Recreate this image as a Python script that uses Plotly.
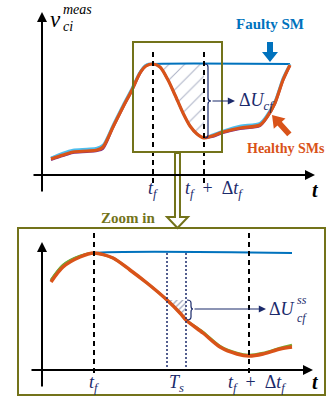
import plotly.graph_objects as go

# ---- capacitor-voltage samples (arbitrary units) ----
# overview panel
t_top = [0.9, 2.1, 3.1, 4.5, 5.5, 6.1, 7.1, 8.1, 9.0, 9.8, 10.4, 11.1, 11.8, 12.6,
         13.3, 14.1, 14.8, 15.5, 16.2, 17.0, 18.1, 19.8, 21.8, 22.5, 23.3, 24.1, 24.8]
v_healthy_top = [1.6, 2.0, 2.3, 2.4, 2.5, 2.8, 4.8, 6.8, 8.5, 10.2, 10.9, 11.1, 10.8, 9.5,
                 8.0, 6.2, 4.9, 4.1, 3.7, 3.9, 4.3, 4.7, 5.0, 5.8, 7.2, 9.5, 11.0]
v_sm2_top = [1.7, 2.2, 2.5, 2.6, 2.7, 3.0, 5.0, 7.0, 8.7, 10.3, 11.0, 11.1, 10.8, 9.5,
             8.0, 6.2, 4.9, 4.1, 3.7, 4.0, 4.4, 4.9, 5.2, 6.0, 7.4, 9.7, 11.1]
v_sm3_top = [1.5, 1.9, 2.2, 2.3, 2.4, 2.6, 4.7, 6.7, 8.4, 10.1, 10.9, 11.1, 10.8, 9.5,
             8.0, 6.2, 4.9, 4.1, 3.7, 3.8, 4.2, 4.6, 4.9, 5.7, 7.1, 9.4, 10.9]
t_faulty_top = [0.9, 2.1, 3.1, 4.5, 5.5, 6.1, 7.1, 8.1, 9.0, 9.8, 10.4, 11.1, 24.8]
v_faulty_top = [1.7, 2.1, 2.4, 2.5, 2.6, 2.9, 4.9, 6.9, 8.6, 10.3, 11.0, 11.1, 11.1]

# zoomed panel
t_bot = [0.9, 2.1, 3.8, 5.2, 7.1, 8.8, 10.5, 12.5, 13.8, 14.4, 16.1, 17.8, 19.5,
         20.7, 22.1, 23.8, 25.0]
v_healthy_bot = [8.8, 10.3, 11.3, 11.7, 11.2, 10.0, 8.7, 7.0, 5.7, 5.0, 3.7, 2.3, 1.6,
                 1.4, 1.6, 2.1, 2.3]
v_sm2_bot = [9.0, 10.5, 11.4, 11.7, 11.2, 10.0, 8.7, 7.0, 5.7, 5.0, 3.8, 2.4, 1.7,
             1.5, 1.7, 2.2, 2.5]
t_faulty_bot = [0.9, 2.1, 3.8, 5.2, 25.0]
v_faulty_bot = [9.0, 10.5, 11.4, 11.7, 11.7]

# event instants
tf_top, tend_top = 11.1, 16.2
tf_bot, tend_bot = 5.2, 20.7
ts_start, ts_end = 12.5, 14.4
tick_top = ["<i>t</i><sub><i>f</i></sub>",
            "<i>t</i><sub><i>f</i></sub>\u2002+\u2002\u0394<i>t</i><sub><i>f</i></sub>"]
tick_bot = ["<i>t</i><sub><i>f</i></sub>", "<i>T</i><sub><i>s</i></sub>",
            "<i>t</i><sub><i>f</i></sub>\u2002+\u2002\u0394<i>t</i><sub><i>f</i></sub>"]

ORANGE = "#D95319"
BLUE = "#0072BD"
NAVY = "#1b2a6b"
OLIVE = "#73731a"
SERIF = "Liberation Serif, Times New Roman, serif"

W, H = 326, 402


def paper(px, py):
    return px / W, 1 - py / H


fig = go.Figure()

# hatched area between the faulty SM level and the healthy curve (overview)
seg = [(t, v) for t, v in zip(t_top, v_healthy_top) if tf_top <= t <= tend_top]
fault_level = v_faulty_top[-1]
hx = [tf_top, tend_top] + [p[0] for p in reversed(seg)]
hy = [fault_level, fault_level] + [p[1] for p in reversed(seg)]
fig.add_trace(go.Scatter(x=hx, y=hy, fill="toself", mode="none",
                         fillcolor="rgba(0,0,0,0)",
                         fillpattern=dict(shape="/", fgcolor="#55618a", size=11, solidity=0.09),
                         xaxis="x", yaxis="y", hoverinfo="skip"))

# hatched sliver in the zoomed panel
seg_b = [(t, v) for t, v in zip(t_bot, v_healthy_bot) if ts_start <= t <= ts_end]
v_ts = seg_b[0][1]
bx = [ts_start, ts_end] + [p[0] for p in reversed(seg_b)]
by = [v_ts, v_ts] + [p[1] for p in reversed(seg_b)]
fig.add_trace(go.Scatter(x=bx, y=by, fill="toself", mode="none",
                         fillcolor="rgba(0,0,0,0)",
                         fillpattern=dict(shape="/", fgcolor="#3c4a78", size=4, solidity=0.3),
                         xaxis="x2", yaxis="y2", hoverinfo="skip"))

# curves, overview
fig.add_trace(go.Scatter(x=t_faulty_top, y=v_faulty_top, mode="lines",
                         line=dict(color=BLUE, width=2, shape="spline", smoothing=0.8),
                         xaxis="x", yaxis="y"))
fig.add_trace(go.Scatter(x=t_top, y=v_sm2_top, mode="lines",
                         line=dict(color="#4DBEEE", width=2.5, shape="spline", smoothing=0.8),
                         xaxis="x", yaxis="y"))
fig.add_trace(go.Scatter(x=t_top, y=v_sm3_top, mode="lines",
                         line=dict(color="#7E2F8E", width=2, shape="spline", smoothing=0.8),
                         xaxis="x", yaxis="y"))
fig.add_trace(go.Scatter(x=t_top, y=v_healthy_top, mode="lines",
                         line=dict(color=ORANGE, width=3.2, shape="spline", smoothing=0.8),
                         xaxis="x", yaxis="y"))

# curves, zoomed
fig.add_trace(go.Scatter(x=t_faulty_bot, y=v_faulty_bot, mode="lines",
                         line=dict(color=BLUE, width=2, shape="spline", smoothing=0.8),
                         xaxis="x2", yaxis="y2"))
fig.add_trace(go.Scatter(x=t_bot, y=v_sm2_bot, mode="lines",
                         line=dict(color="#77AC30", width=2.5, shape="spline", smoothing=0.8),
                         xaxis="x2", yaxis="y2"))
fig.add_trace(go.Scatter(x=t_bot, y=v_healthy_bot, mode="lines",
                         line=dict(color=ORANGE, width=3.5, shape="spline", smoothing=0.8),
                         xaxis="x2", yaxis="y2"))

shapes = []
# dashed event markers
for t in (tf_top, tend_top):
    shapes.append(dict(type="line", xref="x", yref="y", x0=t, x1=t, y0=12.3, y1=-1.2,
                       line=dict(color="black", width=2, dash="5px,4px")))
for t in (tf_bot, tend_bot):
    shapes.append(dict(type="line", xref="x2", yref="y2", x0=t, x1=t, y0=13.7, y1=-0.7,
                       line=dict(color="black", width=2, dash="5px,4px")))
# dotted sampling window
for t in (ts_start, ts_end):
    shapes.append(dict(type="line", xref="x2", yref="y2", x0=t, x1=t, y0=v_faulty_bot[-1], y1=0,
                       line=dict(color=NAVY, width=1.5, dash="2px,2px")))

# zoom frames and connector
shapes.append(dict(type="rect", xref="x", yref="y", x0=9.1, x1=18.0, y0=2.3, y1=13.3,
                   line=dict(color=OLIVE, width=2)))
x0, y0 = paper(18, 228)
x1, y1 = paper(325, 395)
shapes.append(dict(type="rect", xref="paper", yref="paper", x0=x0, x1=x1, y0=y1, y1=y0,
                   line=dict(color=OLIVE, width=2)))
conn = [(175, 153), (175, 217), (167, 217), (177.5, 228), (188, 217), (180, 217), (180, 153)]
path = "M " + " L ".join("%.4f,%.4f" % paper(px, py) for px, py in conn) + " Z"
shapes.append(dict(type="path", xref="paper", yref="paper", path=path,
                   fillcolor="white", line=dict(color=OLIVE, width=2)))

# brackets
shapes.append(dict(type="path", xref="x", yref="y",
                   path="M 16.3,11.1 Q 16.6,11.1 16.6,10.8 L 16.6,7.7 Q 16.6,7.4 16.9,7.4 "
                        "Q 16.6,7.4 16.6,7.1 L 16.6,4.0 Q 16.6,3.7 16.3,3.7",
                   line=dict(color=NAVY, width=1.2)))
shapes.append(dict(type="path", xref="x2", yref="y2",
                   path="M 14.5,7.0 Q 14.9,7.0 14.9,6.7 L 14.9,6.4 Q 14.9,6.1 15.1,6.1 "
                        "Q 14.9,6.1 14.9,5.8 L 14.9,5.3 Q 14.9,5.0 14.5,5.0",
                   line=dict(color=NAVY, width=1.2)))

# block arrows
shapes.append(dict(type="path", xref="x", yref="y",
                   path="M 22.5,13.3 L 23.1,13.3 L 23.1,12.3 L 23.6,12.3 L 22.8,11.3 "
                        "L 22.0,12.3 L 22.5,12.3 Z",
                   fillcolor=BLUE, line=dict(width=0)))
shapes.append(dict(type="path", xref="x", yref="y",
                   path="M 23.0,6.0 L 24.35,5.65 L 23.98,5.32 L 24.95,4.25 L 24.52,3.88 "
                        "L 23.55,4.95 L 23.18,4.62 Z",
                   fillcolor=ORANGE, line=dict(width=0)))

ann = []


def arrow(x, y, ax, ay, xr, yr, width=2, color="black", head=2, size=1.0):
    ann.append(dict(x=x, y=y, ax=ax, ay=ay, xref=xr, yref=yr, axref=xr, ayref=yr,
                    text="", showarrow=True, arrowhead=head, arrowsize=size,
                    arrowwidth=width, arrowcolor=color))


def label(x, y, text, xr, yr, size=17, color=NAVY, xanchor="center", bold=False):
    if bold:
        text = "<b>" + text + "</b>"
    ann.append(dict(x=x, y=y, xref=xr, yref=yr, text=text, showarrow=False,
                    xanchor=xanchor, yanchor="middle",
                    font=dict(family=SERIF, size=size, color=color)))


# axes
arrow(0, 16.3, 0, -1.8, "x", "y")
arrow(27.3, 0, -1.0, 0, "x", "y")
arrow(0, 12.8, 0, -1.8, "x2", "y2")
arrow(27.1, 0, -1.2, 0, "x2", "y2")

# delta-U pointers
arrow(19.3, 7.4, 16.9, 7.4, "x", "y", width=1.2, color=NAVY, size=1.2)
arrow(22.4, 6.1, 15.1, 6.1, "x2", "y2", width=1.2, color=NAVY, size=1.2)

# axis titles
label(1.3, 15.6, "<i>v</i>", "x", "y", size=23, color="black")
label(1.9, 16.6, "<i>meas</i>", "x", "y", size=14, color="black", xanchor="left")
label(1.9, 14.9, "<i>ci</i>", "x", "y", size=14, color="black", xanchor="left")
label(27.3, -1.5, "<b><i>t</i></b>", "x", "y", size=20, color="black")
label(27.3, -1.2, "<b><i>t</i></b>", "x2", "y2", size=20, color="black")

# tick texts
label(tf_top, -1.4, tick_top[0], "x", "y", size=18)
label(14.1, -1.4, tick_top[1], "x", "y", size=18, xanchor="left")
label(tf_bot, -1.3, tick_bot[0], "x2", "y2", size=18)
label((ts_start + ts_end) / 2, -1.3, tick_bot[1], "x2", "y2", size=18)
label(21.5, -1.3, tick_bot[2], "x2", "y2", size=18)

# annotations of the deviation
label(19.5, 7.4, "\u0394<i>U</i><sub><i>cf</i></sub>", "x", "y", size=18, xanchor="left")
label(22.5, 6.1, "\u0394<i>U</i>", "x2", "y2", size=18, xanchor="left")
label(25.3, 7.0, "<i>ss</i>", "x2", "y2", size=12, xanchor="left")
label(25.3, 5.2, "<i>cf</i>", "x2", "y2", size=12, xanchor="left")

# captions for the two groups of curves
label(22.8, 15.1, "Faulty SM", "x", "y", size=15, color=BLUE, bold=True)
label(20.3, 2.7, "Healthy SMs", "x", "y", size=14, color=ORANGE, bold=True, xanchor="left")
zx, zy = paper(128, 218)
label(zx, zy, "Zoom in", "paper", "paper", size=15, color=OLIVE, bold=True)

axis_common = dict(visible=False, fixedrange=True)
fig.update_layout(
    width=W, height=H, margin=dict(l=0, r=0, t=0, b=0),
    paper_bgcolor="white", plot_bgcolor="white", showlegend=False,
    xaxis=dict(domain=[0, 1], range=[-4.2, 28.4], anchor="y", **axis_common),
    yaxis=dict(domain=[1 - 200 / H, 1], range=[-2.5, 17.5], anchor="x", **axis_common),
    xaxis2=dict(domain=[0, 1], range=[-4.2, 28.4], anchor="y2", **axis_common),
    yaxis2=dict(domain=[0, 1 - 200 / H], range=[-3.2, 17.0], anchor="x2", **axis_common),
    shapes=shapes, annotations=ann,
)

fig.write_html("out.html")
